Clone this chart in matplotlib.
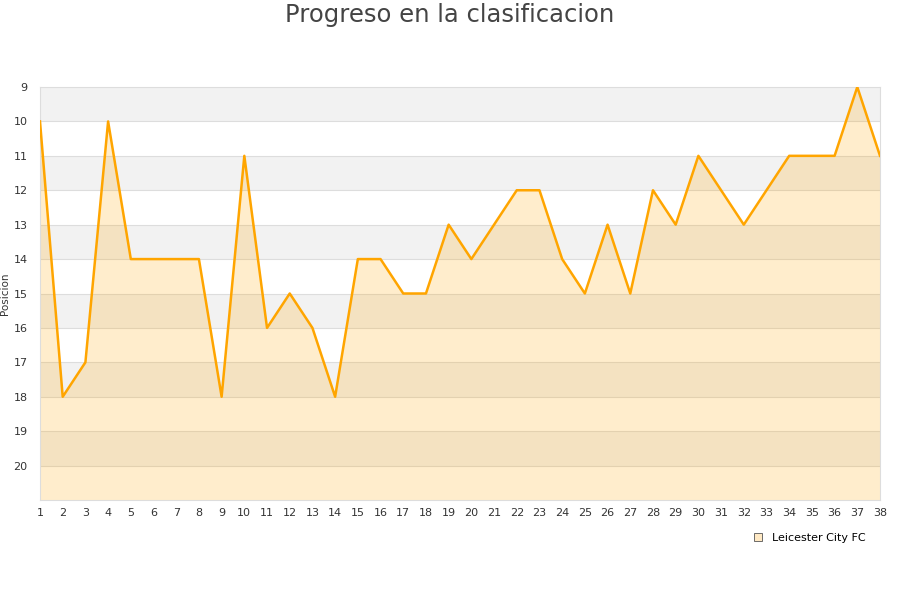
import matplotlib
matplotlib.use("Agg")
import matplotlib.pyplot as plt
from matplotlib.lines import Line2D

jornadas = list(range(1, 39))
posicion = [10, 18, 17, 10, 14, 14, 14, 14, 18, 11,
            16, 15, 16, 18, 14, 14, 15, 15, 13, 14,
            13, 12, 12, 14, 15, 13, 15, 12, 13, 11,
            12, 13, 12, 11, 11, 11, 9, 11]
equipo = "Leicester City FC"
y_ticks = list(range(9, 21))

fig = plt.figure(figsize=(9, 6), dpi=100)
ax = fig.add_axes([40 / 900, 100 / 600, 840 / 900, 413 / 600])

# bandas grises alternas
for y in range(9, 21, 2):
    ax.axhspan(y, y + 1, color="#f2f2f2", zorder=0, lw=0)
for y in range(10, 21):
    ax.axhline(y, color="#dddddd", lw=0.8, zorder=1)

ax.fill_between(jornadas, posicion, 21, color="#ffa500", alpha=0.2, lw=0, zorder=2)
ax.plot(jornadas, posicion, color="#ffa500", lw=1.8, zorder=3)

ax.set_xlim(1, 38)
ax.set_ylim(21, 9)
ax.set_xticks(jornadas)
ax.set_yticks(y_ticks)
ax.tick_params(length=0, labelsize=8, colors="#333333", pad=6)
ax.tick_params(axis="y", pad=9)
for s in ax.spines.values():
    s.set_color("#dddddd")
ax.set_ylabel("Posicion", fontsize=7.5, color="#333333")
ax.yaxis.set_label_coords(-0.036, 0.5)

fig.suptitle("Progreso en la clasificacion", fontsize=17.5, color="#444444", y=0.995)

handle = Line2D([], [], marker="s", ls="none", markersize=6,
                markerfacecolor="#ffe9c4", markeredgecolor="#555555", markeredgewidth=0.6)
fig.legend([handle], [equipo], loc="center right", bbox_to_anchor=(0.962, 0.103),
           frameon=False, fontsize=8, handletextpad=0.3, borderaxespad=0, borderpad=0)

fig.savefig("out.png", dpi=100)
